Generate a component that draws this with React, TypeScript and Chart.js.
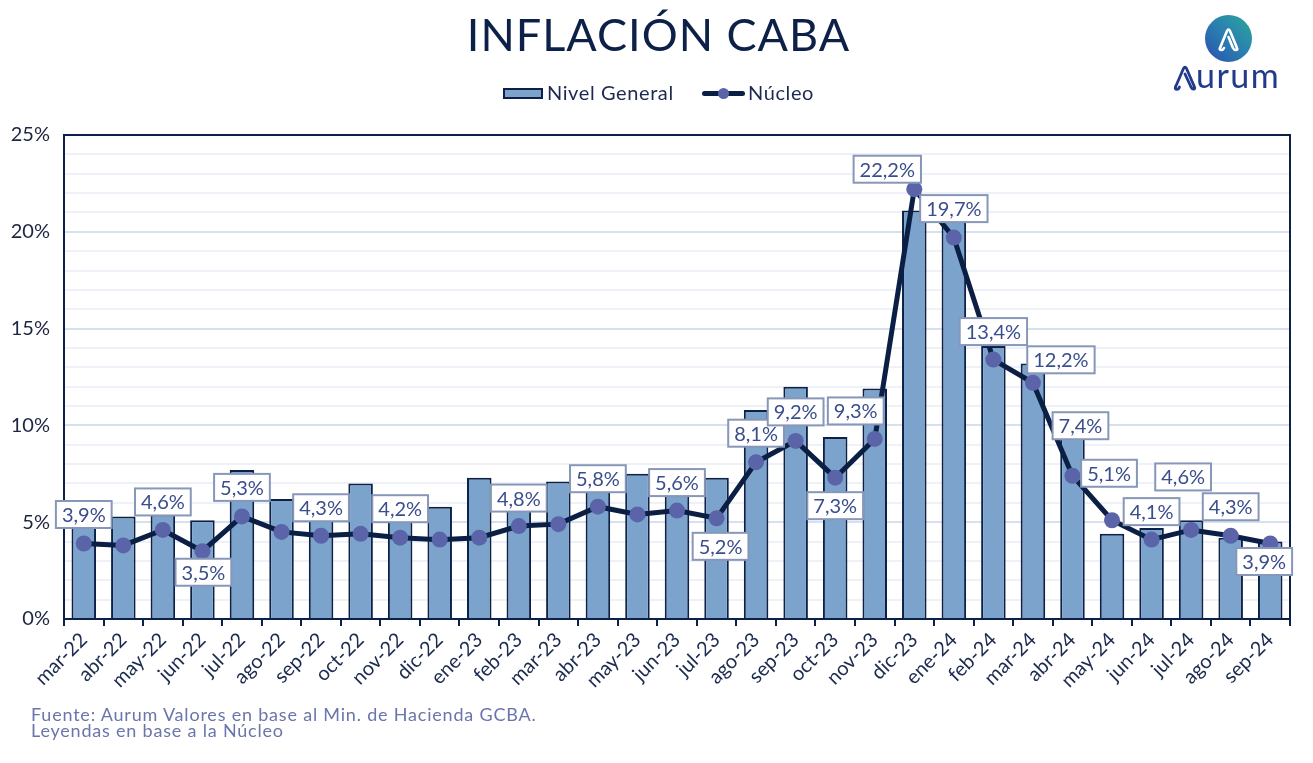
import React, { useEffect, useRef } from "react";
import { Chart, registerables } from "chart.js";

Chart.register(...registerables);

const categories = [
  "mar-22", "abr-22", "may-22", "jun-22", "jul-22", "ago-22", "sep-22", "oct-22", "nov-22", "dic-22",
  "ene-23", "feb-23", "mar-23", "abr-23", "may-23", "jun-23", "jul-23", "ago-23", "sep-23", "oct-23",
  "nov-23", "dic-23", "ene-24", "feb-24", "mar-24", "abr-24", "may-24", "jun-24", "jul-24", "ago-24", "sep-24",
];

const nivelGeneral = [
  5.9, 5.3, 5.4, 5.1, 7.7, 6.2, 5.7, 7.0, 5.1, 5.8,
  7.3, 6.6, 7.1, 7.8, 7.5, 6.9, 7.3, 10.8, 12.0, 9.4,
  11.9, 21.1, 21.7, 14.1, 13.2, 9.8, 4.4, 4.7, 5.1, 4.2, 4.0,
];

const nucleo = [
  3.9, 3.8, 4.6, 3.5, 5.3, 4.5, 4.3, 4.4, 4.2, 4.1,
  4.2, 4.8, 4.9, 5.8, 5.4, 5.6, 5.2, 8.1, 9.2, 7.3,
  9.3, 22.2, 19.7, 13.4, 12.2, 7.4, 5.1, 4.1, 4.6, 4.3, 3.9,
];

const yTickValues = [0, 5, 10, 15, 20, 25];

// Placement of the Núcleo value labels relative to each point (null = no label)
const nucleoLabelOffsets: ([number, number] | null)[] = [
  [0, -29], null, [0, -28], [1, 21], [0, -29], null, [0, -28], null, [0, -29], null,
  null, [0, -28], null, [0, -28], null, [0, -28], [4, 28], [0, -29], [0, -29], [0, 28],
  [-19, -28], [-27, -20], [0, -29], [0, -28], [28, -23], [8, -50], [-3, -47], [0, -28], [-8, -53], [0, -29], [-6, 18],
];

const NAVY = "#0d2148";
const BAR_FILL = "#7ba3cc";
const POINT_FILL = "#5b64a8";
const FONT = "Lato";

const fmt = (v: number) => v.toFixed(1).replace(".", ",") + "%";

export default function App() {
  const ref = useRef<HTMLCanvasElement | null>(null);

  useEffect(() => {
    document.body.style.margin = "0";
    const canvas = ref.current;
    if (!canvas) return;

    const borderPlugin = {
      id: "plotBorder",
      afterDatasetsDraw(chart: any) {
        const { ctx, chartArea } = chart;
        ctx.save();
        ctx.strokeStyle = NAVY;
        ctx.lineWidth = 2;
        ctx.strokeRect(chartArea.left, chartArea.top, chartArea.right - chartArea.left, chartArea.bottom - chartArea.top);
        ctx.restore();
      },
    };

    const labelPlugin = {
      id: "nucleoLabels",
      afterDraw(chart: any) {
        const meta = chart.getDatasetMeta(1);
        const ctx = chart.ctx;
        ctx.save();
        ctx.font = `20px ${FONT}`;
        ctx.textAlign = "center";
        ctx.textBaseline = "middle";
        meta.data.forEach((pt: any, i: number) => {
          const off = nucleoLabelOffsets[i];
          if (!off) return;
          const text = fmt(nucleo[i]);
          const w = ctx.measureText(text).width + 12;
          const h = 27;
          const cx = pt.x + off[0];
          const cy = pt.y + off[1];
          ctx.fillStyle = "#ffffff";
          ctx.fillRect(cx - w / 2, cy - h / 2, w, h);
          ctx.strokeStyle = "#8797b9";
          ctx.lineWidth = 2;
          ctx.strokeRect(cx - w / 2, cy - h / 2, w, h);
          ctx.fillStyle = "#3a4d8c";
          ctx.fillText(text, cx, cy + 1);
        });
        ctx.restore();
      },
    };

    const chart = new Chart(canvas, {
      type: "bar",
      data: {
        labels: categories,
        datasets: [
          {
            type: "bar",
            label: "Nivel General",
            data: nivelGeneral,
            backgroundColor: BAR_FILL,
            borderColor: NAVY,
            borderWidth: 2,
            categoryPercentage: 1,
            barPercentage: 0.62,
            order: 2,
          },
          {
            type: "line",
            label: "Núcleo",
            data: nucleo,
            borderColor: "#0b1f45",
            borderWidth: 5,
            pointRadius: 8,
            pointBackgroundColor: POINT_FILL,
            pointBorderColor: POINT_FILL,
            pointBorderWidth: 0,
            tension: 0,
            order: 1,
          },
        ],
      } as any,
      options: {
        responsive: false,
        animation: false,
        devicePixelRatio: 1,
        layout: { padding: { left: 0, top: 135, right: 23, bottom: 0 } },
        plugins: {
          legend: { display: false },
          tooltip: { enabled: false },
          title: { display: false },
        },
        scales: {
          x: {
            type: "category",
            offset: true,
            grid: {
              drawOnChartArea: false,
              drawTicks: true,
              tickLength: 7,
              color: NAVY,
              lineWidth: 2,
              offset: true,
            },
            border: { color: NAVY, width: 2 },
            ticks: {
              minRotation: 45,
              maxRotation: 45,
              autoSkip: false,
              color: "#1c2a4f",
              padding: 2,
              font: { family: FONT, size: 20 },
            },
            afterFit: (s: any) => {
              s.height = 144;
            },
          },
          y: {
            min: yTickValues[0],
            max: yTickValues[yTickValues.length - 1],
            ticks: {
              stepSize: 1,
              autoSkip: false,
              color: "#1d2540",
              padding: 14,
              font: { family: FONT, size: 20 },
              callback: (v: any) => (yTickValues.includes(Number(v)) ? `${v}%` : ""),
            },
            grid: {
              drawTicks: false,
              lineWidth: 2,
              color: (c: any) => (c.tick && Number(c.tick.value) % 5 === 0 ? "#d6e0ee" : "#eef2f8"),
            },
            border: { color: NAVY, width: 2 },
            afterFit: (s: any) => {
              s.width = 64;
            },
          },
        },
      } as any,
      plugins: [borderPlugin, labelPlugin],
    });

    return () => chart.destroy();
  }, []);

  return (
    <div
      style={{
        position: "relative",
        width: 1313,
        height: 763,
        background: "#ffffff",
        overflow: "hidden",
        fontFamily: FONT,
      }}
    >
      <canvas ref={ref} width={1313} height={763} style={{ position: "absolute", left: 0, top: 0 }} />

      {/* Title */}
      <div
        style={{
          position: "absolute",
          left: 0,
          width: 1317,
          top: 12,
          textAlign: "center",
          fontSize: 45,
          lineHeight: "45px",
          color: NAVY,
          letterSpacing: 1,
        }}
      >
        INFLACIÓN CABA
      </div>

      {/* Legend */}
      <div
        style={{
          position: "absolute",
          left: 503,
          top: 88,
          width: 40,
          height: 11,
          boxSizing: "border-box",
          background: BAR_FILL,
          border: `2px solid ${NAVY}`,
        }}
      />
      <div style={{ position: "absolute", left: 547, top: 82, fontSize: 20, lineHeight: "20px", color: "#1c2a4f", letterSpacing: 0.6 }}>
        Nivel General
      </div>
      <div style={{ position: "absolute", left: 702, top: 91, width: 43, height: 5, borderRadius: 3, background: "#0b1f45" }} />
      <div
        style={{
          position: "absolute",
          left: 718,
          top: 88,
          width: 11,
          height: 11,
          borderRadius: "50%",
          background: POINT_FILL,
        }}
      />
      <div style={{ position: "absolute", left: 748, top: 82, fontSize: 20, lineHeight: "20px", color: "#1c2a4f", letterSpacing: 0.6 }}>
        Núcleo
      </div>

      {/* Logo */}
      <div
        style={{
          position: "absolute",
          left: 1205,
          top: 15,
          width: 47,
          height: 47,
          borderRadius: "50%",
          background: "linear-gradient(45deg, #2b4fb0 0%, #2a7fb0 50%, #2aa89a 100%)",
        }}
      >
        <svg width={47} height={47} viewBox="0 0 47 47" style={{ position: "absolute", left: 0, top: 0 }}>
          <path
            d="M15 33 L22 16 Q23.5 13 25 16 L32 33 Q33 35 31 35 Q29 35 28 33 L23.5 22"
            fill="none"
            stroke="#ffffff"
            strokeWidth={2.6}
            strokeLinecap="round"
            strokeLinejoin="round"
          />
          <path
            d="M15 33 Q14 35 16.5 35 Q18 35 19 33"
            fill="none"
            stroke="#ffffff"
            strokeWidth={2.6}
            strokeLinecap="round"
          />
        </svg>
      </div>
      <svg width={24} height={27} viewBox="0 0 24 27" style={{ position: "absolute", left: 1173, top: 64 }}>
        <path
          d="M2.5 23 L10.5 4.5 Q12 2 13.5 4.5 L21.5 23 Q22.3 25 20.5 25 Q19 25 18 23 L12 10"
          fill="none"
          stroke="#22398c"
          strokeWidth={2.8}
          strokeLinecap="round"
          strokeLinejoin="round"
        />
        <path d="M2.5 23 Q1.5 25.3 4 25.3 Q5.6 25.3 6.5 23" fill="none" stroke="#22398c" strokeWidth={2.8} strokeLinecap="round" />
      </svg>
      <div
        style={{
          position: "absolute",
          left: 1196,
          top: 58,
          fontSize: 34,
          lineHeight: "34px",
          color: "#22398c",
          letterSpacing: 1.5,
        }}
      >
        urum
      </div>

      {/* Footer */}
      <div
        style={{
          position: "absolute",
          left: 31,
          top: 707,
          fontSize: 18,
          lineHeight: "15.5px",
          color: "#6a75ab",
          letterSpacing: 0.8,
        }}
      >
        Fuente: Aurum Valores en base al Min. de Hacienda GCBA.
        <br />
        Leyendas en base a la Núcleo
      </div>
    </div>
  );
}
